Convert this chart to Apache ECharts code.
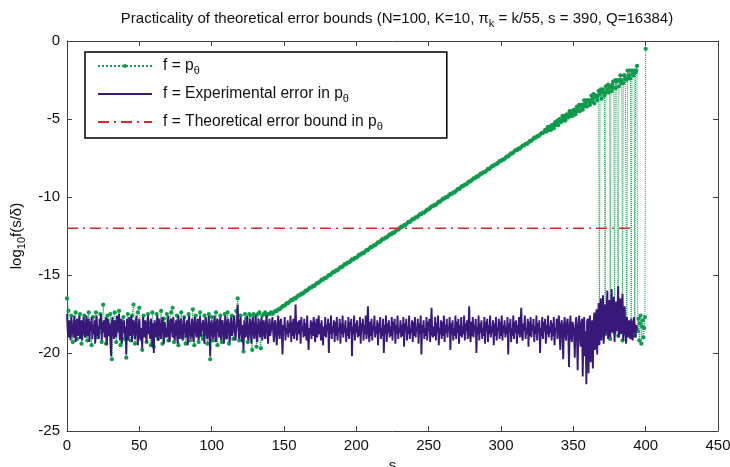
<!DOCTYPE html>
<html><head><meta charset="utf-8">
<script src="https://cdn.jsdelivr.net/npm/echarts@6/dist/echarts.min.js"></script>
<style>html,body{margin:0;padding:0;background:#fff}#c{width:730px;height:467px}</style>
</head><body><div id="c"></div>
<script>
// f = p_theta (log10), s = 0..330 step 1
const pThetaHead = [
-16.5,-17.3,-18.9,-17.6,-19.3,-18.0,-17.4,-19.1,-18.6,-17.5,
-19.4,-18.2,-17.6,-18.9,-19.2,-17.4,-18.5,-19.5,-17.7,-18.3,
-17.4,-19.0,-18.7,-17.5,-19.3,-16.9,-18.1,-19.4,-17.6,-18.8,
-17.5,-20.4,-18.2,-17.4,-19.3,-18.6,-17.3,-19.5,-18.0,-17.7,
-19.1,-20.3,-17.5,-18.4,-19.2,-17.6,-16.9,-19.4,-18.3,-17.4,
-17.1,-19.0,-19.8,-17.6,-18.7,-19.3,-17.5,-18.1,-19.5,-17.4,
-19.6,-18.2,-17.5,-19.1,-18.5,-17.3,-19.4,-17.8,-18.9,-17.5,
-19.2,-18.0,-17.4,-17.1,-19.3,-18.6,-17.6,-19.5,-18.2,-17.4,
-19.0,-17.7,-19.4,-18.3,-17.5,-19.2,-18.8,-17.2,-19.5,-17.6,
-18.4,-19.3,-17.4,-18.9,-19.1,-17.6,-18.2,-19.4,-17.5,-20.4,
-17.7,-19.2,-18.5,-17.4,-19.5,-18.0,-17.6,-19.3,-18.7,-17.5,
-19.0,-17.4,-19.4,-18.2,-17.6,-19.1,-18.6,-17.3,-16.5,-19.2,
-17.6,-18.4,-19.9,-17.5,-17.8,-19.3,-17.5,-17.6,-19.8,-17.5,
-17.6,-19.6,-17.5,-17.4,-19.7,-17.6,-17.5,-17.4,-17.6,-17.5,
-17.5,-17.4,-17.5,-17.4,-17.3,-17.3,-17.2,-17.2,-17.1,-17.0,
-17.0,-16.9,-16.8,-16.8,-16.7,-16.6,-16.6,-16.5,-16.5,-16.4,
-16.3,-16.3,-16.2,-16.2,-16.1,-16.0,-16.0,-15.9,-15.8,-15.8,
-15.7,-15.7,-15.6,-15.5,-15.5,-15.4,-15.3,-15.3,-15.2,-15.2,
-15.1,-15.0,-15.0,-14.9,-14.8,-14.8,-14.7,-14.7,-14.6,-14.5,
-14.5,-14.4,-14.3,-14.3,-14.2,-14.2,-14.1,-14.0,-14.0,-13.9,
-13.9,-13.8,-13.7,-13.7,-13.6,-13.6,-13.5,-13.4,-13.4,-13.3,
-13.2,-13.2,-13.1,-13.1,-13.0,-12.9,-12.9,-12.8,-12.7,-12.7,
-12.6,-12.6,-12.5,-12.4,-12.4,-12.3,-12.3,-12.2,-12.1,-12.1,
-12.0,-11.9,-11.9,-11.8,-11.8,-11.7,-11.6,-11.6,-11.5,-11.4,
-11.4,-11.3,-11.3,-11.2,-11.1,-11.1,-11.0,-11.0,-10.9,-10.8,
-10.8,-10.7,-10.6,-10.6,-10.5,-10.5,-10.4,-10.3,-10.3,-10.2,
-10.1,-10.1,-10.0,-10.0,-9.9,-9.8,-9.8,-9.7,-9.7,-9.6,
-9.5,-9.5,-9.4,-9.3,-9.3,-9.2,-9.2,-9.1,-9.0,-9.0,
-8.9,-8.8,-8.8,-8.7,-8.7,-8.6,-8.5,-8.5,-8.4,-8.4,
-8.3,-8.2,-8.2,-8.1,-8.0,-8.0,-7.9,-7.9,-7.8,-7.7,
-7.7,-7.6,-7.6,-7.5,-7.4,-7.4,-7.3,-7.2,-7.2,-7.1,
-7.0,-7.0,-6.9,-6.9,-6.8,-6.7,-6.7,-6.6,-6.6,-6.5,
-6.4,-6.4,-6.3,-6.2,-6.2,-6.1,-6.1,-6.0,-5.9,-5.9,
-5.8
];
// f = p_theta (log10), s = 330.5..400 step 0.5
const pThetaTail = [
-5.7,-5.8,-5.8,-5.6,-5.5,-5.7,-5.6,-5.5,-5.7,-5.4,
-5.4,-5.5,-5.6,-5.3,-5.2,-5.4,-5.3,-5.1,-5.4,-5.1,
-5.0,-5.2,-5.2,-5.0,-4.8,-5.1,-5.0,-4.8,-5.1,-4.8,
-4.7,-4.9,-4.9,-4.7,-4.5,-4.8,-4.7,-4.5,-4.8,-4.5,
-4.4,-4.6,-4.7,-4.4,-4.2,-4.5,-4.3,-4.1,-4.5,-4.2,
-4.1,-4.2,-4.4,-4.1,-3.8,-4.2,-4.0,-3.8,-4.2,-3.8,
-3.8,-3.9,-4.1,-3.8,-3.5,-3.9,-3.7,-3.4,-4.0,-3.5,
-3.5,-3.6,-3.8,-3.5,-3.2,-19.0,-3.4,-3.1,-3.7,-3.2,
-3.1,-3.3,-3.5,-18.8,-2.9,-3.3,-3.1,-2.8,-3.3,-2.9,
-19.1,-3.0,-3.2,-2.8,-2.6,-3.0,-18.7,-2.5,-3.0,-2.6,
-2.5,-18.9,-2.9,-2.5,-2.2,-2.7,-2.5,-19.2,-2.7,-2.2,
-2.2,-2.4,-2.5,-18.8,-1.9,-2.4,-2.2,-1.9,-2.4,-19.0,
-1.9,-2.1,-2.2,-1.9,-18.9,-2.0,-1.9,-1.6,-18.6,-17.8,
-19.2,-18.1,-17.6,-19.4,-18.3,-17.9,-19.0,-18.4,-17.7,-0.5
];

// f = experimental error in p_theta (log10), s = 0..394 step 0.5
const expErr = [
-17.5,-18.6,-19.0,-17.9,-18.3,-19.2,-17.7,-18.8,-18.1,-19.0,-17.6,-18.4,-19.3,-18.0,-17.8,-18.9,-18.2,-17.6,-19.1,-18.5,
-17.9,-19.2,-18.3,-17.7,-18.7,-19.0,-18.1,-17.6,-18.9,-18.4,-17.8,-19.3,-18.0,-18.6,-17.7,-19.1,-18.2,-18.8,-17.9,-19.4,
-18.1,-17.6,-18.9,-18.3,-19.1,-17.8,-18.5,-17.5,-19.2,-18.0,-18.7,-17.9,-19.0,-18.2,-17.7,-19.5,-18.4,-17.8,-18.9,-18.1,
-19.3,-20.2,-18.0,-17.7,-18.8,-19.1,-17.9,-18.4,-19.0,-17.6,-18.6,-18.2,-17.5,-19.2,-18.3,-17.8,-19.4,-18.0,-18.7,-17.9,
-19.0,-18.3,-20.1,-17.8,-18.6,-19.2,-17.7,-18.4,-18.9,-17.6,-19.3,-18.1,-17.9,-18.7,-19.1,-18.0,-17.6,-18.8,-19.5,-18.2,
-17.8,-18.9,-19.2,-18.4,-19.7,-17.7,-18.2,-19.0,-17.9,-18.6,-19.3,-18.0,-17.6,-18.8,-18.3,-19.1,-17.8,-18.5,-19.6,-18.1,
-20.0,-17.9,-18.7,-19.0,-18.2,-17.6,-19.2,-18.4,-17.8,-18.9,-19.1,-18.1,-17.7,-18.6,-19.4,-18.0,-17.9,-18.8,-19.0,-18.3,
-17.6,-18.9,-19.3,-18.1,-17.8,-18.5,-19.0,-17.7,-18.7,-19.2,-18.2,-17.9,-18.8,-19.4,-17.6,-18.3,-19.1,-18.0,-17.8,-18.9,
-19.2,-18.2,-17.7,-18.6,-19.0,-18.3,-17.9,-19.5,-18.1,-17.6,-18.8,-19.1,-18.4,-17.8,-18.9,-19.3,-18.0,-17.7,-18.6,-19.0,
-18.1,-17.8,-19.2,-18.5,-17.6,-18.9,-19.0,-18.2,-17.9,-18.7,-19.4,-18.0,-17.7,-18.8,-19.1,-18.3,-17.6,-19.0,-20.2,-18.1,
-17.9,-18.7,-19.1,-18.2,-17.6,-18.9,-19.3,-18.0,-17.8,-18.5,-19.0,-18.4,-17.7,-19.2,-18.1,-17.9,-18.8,-19.4,-18.2,-17.6,
-18.9,-19.1,-18.0,-17.8,-18.6,-19.3,-18.3,-17.7,-18.9,-19.0,-18.1,-17.6,-18.7,-19.2,-18.4,-17.9,-16.9,-18.5,-19.1,-18.0,
-17.7,-18.8,-19.3,-18.2,-19.8,-17.9,-18.6,-19.0,-18.1,-17.6,-18.9,-19.2,-18.3,-17.8,-18.7,-19.4,-18.0,-17.7,-18.8,-19.1,
-18.2,-17.6,-18.9,-19.3,-18.4,-17.8,-18.6,-19.0,-18.1,-17.7,-19.2,-18.5,-17.9,-18.8,-19.1,-18.0,-17.6,-18.7,-19.4,-18.3,
-17.8,-18.9,-19.0,-18.2,-17.7,-18.6,-19.3,-18.1,-17.9,-18.8,-19.5,-18.3,-17.6,-18.7,-19.1,-18.0,-17.8,-18.9,-20.1,-18.2,
-18.6,-17.7,-19.2,-18.4,-18.8,-17.9,-19.0,-18.1,-18.7,-17.6,-19.3,-18.0,-18.9,-17.8,-19.1,-18.3,-16.9,-18.5,-19.2,-18.0,
-18.8,-17.9,-18.2,-19.4,-17.7,-18.6,-18.3,-19.0,-17.8,-18.9,-18.1,-19.2,-17.6,-18.7,-19.8,-18.4,-18.8,-17.9,-19.1,-18.0,
-18.9,-17.7,-18.2,-19.3,-18.6,-17.8,-19.0,-18.4,-17.6,-18.8,-18.1,-19.2,-17.9,-18.7,-19.5,-18.3,-18.9,-17.7,-19.0,-18.2,
-18.6,-17.8,-20.0,-18.1,-18.8,-17.6,-19.1,-18.3,-18.7,-17.9,-19.3,-18.0,-18.9,-17.7,-19.2,-18.4,-18.6,-17.8,-19.4,-18.1,
-18.8,-17.6,-19.0,-18.2,-18.7,-17.9,-19.3,-18.4,-18.9,-17.7,-19.1,-18.0,-18.6,-17.8,-20.2,-18.3,-18.8,-17.6,-19.2,-18.1,
-18.7,-17.9,-19.0,-18.3,-18.9,-17.7,-19.4,-18.1,-18.6,-17.8,-19.2,-18.2,-18.8,-17.6,-19.1,-18.4,-17.0,-18.7,-19.3,-18.0,
-18.9,-17.8,-19.2,-18.2,-18.6,-17.6,-19.0,-18.3,-18.8,-17.9,-19.5,-18.1,-18.7,-17.7,-19.1,-18.4,-18.9,-17.8,-20.0,-18.2,
-18.8,-17.6,-19.3,-18.1,-18.7,-17.9,-19.0,-18.3,-18.9,-17.7,-19.2,-18.0,-18.6,-17.8,-19.4,-18.2,-18.8,-17.6,-19.1,-18.4,
-18.7,-17.9,-19.0,-18.2,-18.9,-17.7,-19.6,-18.1,-18.6,-17.8,-19.2,-18.3,-18.8,-17.6,-19.1,-18.4,-18.7,-17.9,-19.3,-18.0,
-18.9,-17.7,-19.0,-18.3,-18.6,-17.8,-19.4,-18.1,-18.8,-17.6,-20.1,-18.2,-18.7,-17.9,-19.1,-18.4,-18.9,-17.7,-19.2,-18.0,
-18.6,-17.8,-19.3,-18.2,-17.1,-18.8,-19.0,-18.3,-18.9,-17.7,-19.2,-18.1,-18.7,-17.6,-19.5,-18.4,-18.8,-17.9,-19.1,-18.0,
-18.9,-17.6,-19.3,-18.2,-18.7,-17.8,-19.0,-18.3,-18.6,-17.7,-19.8,-18.1,-18.8,-17.9,-19.2,-18.4,-18.9,-17.6,-19.1,-18.0,
-18.7,-17.8,-19.4,-18.2,-18.9,-17.7,-19.0,-18.3,-18.8,-17.6,-19.2,-18.1,-18.6,-17.9,-19.1,-18.4,-17.0,-18.8,-19.3,-18.0,
-18.9,-17.7,-19.0,-18.2,-18.6,-17.8,-20.0,-18.3,-18.8,-17.6,-19.2,-18.1,-18.7,-17.9,-19.1,-18.4,-18.9,-17.7,-19.4,-18.0,
-18.6,-17.8,-19.3,-18.2,-18.8,-17.6,-19.0,-18.3,-18.7,-17.9,-19.5,-18.1,-18.9,-17.7,-19.2,-18.4,-18.6,-17.8,-19.1,-18.0,
-18.9,-17.6,-19.2,-18.2,-18.7,-17.9,-19.0,-18.3,-18.8,-17.7,-20.1,-18.1,-18.6,-17.8,-19.3,-18.4,-18.9,-17.6,-19.1,-18.0,
-18.7,-17.9,-19.4,-18.2,-18.8,-17.7,-19.0,-18.3,-17.1,-18.9,-19.2,-18.1,-18.6,-17.6,-19.1,-18.4,-18.8,-17.8,-19.6,-18.0,
-18.9,-17.7,-19.0,-18.2,-18.6,-17.8,-19.3,-18.3,-18.8,-17.6,-19.2,-18.1,-18.7,-17.9,-20.0,-18.4,-18.9,-17.7,-19.1,-18.0,
-18.6,-17.8,-19.4,-18.2,-18.8,-17.6,-19.0,-18.3,-18.7,-17.9,-19.2,-18.1,-18.9,-17.7,-19.5,-18.4,-18.6,-17.8,-19.1,-18.0,
-17.6,-18.9,-19.8,-18.2,-17.9,-18.7,-20.4,-18.3,-17.7,-18.8,-19.2,-18.1,-17.8,-18.6,-20.9,-18.4,-17.6,-18.9,-19.3,-18.0,
-17.9,-18.7,-20.3,-18.2,-17.7,-18.8,-21.1,-18.3,-17.6,-18.9,-19.6,-18.1,-17.8,-21.5,-18.4,-17.7,-20.2,-18.6,-22.0,-18.0,
-17.8,-21.3,-18.2,-17.6,-20.6,-18.4,-17.9,-21.0,-18.1,-17.4,-19.8,-18.3,-17.2,-20.1,-18.0,-16.8,-19.5,-18.2,-16.5,-19.2,
-17.6,-16.3,-19.4,-18.1,-16.9,-18.8,-17.4,-16.0,-19.1,-18.3,-16.6,-19.0,-17.5,-15.9,-18.7,-17.8,-16.4,-19.3,-18.0,-16.7,
-18.6,-17.3,-15.7,-19.0,-17.9,-16.5,-18.8,-17.6,-16.2,-19.2,-18.1,-17.0,-18.7,-19.4,-17.7,-18.3,-19.0,-17.9,-18.5,-19.1,
-17.8,-18.4,-19.2,-18.0,-17.7,-18.6,-19.0,-18.2,-18.5
];

// theoretical error bound (log10)
const boundS = [0, 392];
const boundV = [-12, -12];

const names = ['f = p_θ', 'f = Experimental error in p_θ', 'f = Theoretical error bound in p_θ'];
const richNames = {
  'f = p_θ': '{t|f = p}{s|θ}',
  'f = Experimental error in p_θ': '{t|f = Experimental error in p}{s|θ}',
  'f = Theoretical error bound in p_θ': '{t|f = Theoretical error bound in p}{s|θ}'
};

const GREEN = '#0e9c4c', PURPLE = '#381878', RED = '#d8262a';
const FONT = 'Liberation Sans, Arial, sans-serif';
const axisCol = '#404040';

const greenData = pThetaHead.map((v, i) => [i, v])
  .concat(pThetaTail.map((v, i) => [330.5 + i * 0.5, v]));
const purpleData = expErr.map((v, i) => [i * 0.5, v]);
const redData = boundS.map((s, i) => [s, boundV[i]]);

const chart = echarts.init(document.getElementById('c'), null, {renderer: 'canvas'});
const baseX = {type: 'value', min: 0, max: 450, interval: 50, splitLine: {show: false},
  axisLine: {show: true, onZero: false, lineStyle: {color: axisCol, width: 1}},
  axisTick: {show: true, inside: true, length: 5, lineStyle: {color: axisCol}}};
const baseY = {type: 'value', min: -25, max: 0, interval: 5, splitLine: {show: false},
  axisLine: {show: true, onZero: false, lineStyle: {color: axisCol, width: 1}},
  axisTick: {show: true, inside: true, length: 5, lineStyle: {color: axisCol}}};

chart.setOption({
  animation: false,
  backgroundColor: '#fff',
  title: {
    text: 'Practicality of theoretical error bounds (N=100, K=10, π{s|k} = k/55, s = 390, Q=16384)',
    left: 392, textAlign: 'center', top: 4,
    textStyle: {fontFamily: FONT, fontSize: 15, fontWeight: 'normal', color: '#111',
      rich: {s: {fontFamily: FONT, fontSize: 11, padding: [9, 0, 0, 0], color: '#111'}}}
  },
  grid: {left: 67, right: 12, top: 41, bottom: 36, containLabel: false, outerBoundsMode: 'none'},
  legend: {
    orient: 'vertical', left: 85, top: 52,
    data: [
      {name: names[0]},
      {name: names[1], itemStyle: {opacity: 0}},
      {name: names[2], itemStyle: {opacity: 0}}
    ],
    itemWidth: 54, itemHeight: 5, itemGap: 10,
    padding: [6, 64, 6, 12],
    borderColor: '#000', borderWidth: 1.5, backgroundColor: '#fff',
    formatter: n => richNames[n],
    textStyle: {fontFamily: FONT, fontSize: 15.6, color: '#111', padding: [0, 0, 0, 6],
      rich: {t: {fontFamily: FONT, fontSize: 15.6, color: '#111'},
             s: {fontFamily: FONT, fontSize: 11, padding: [9, 0, 0, 0], color: '#111'}}}
  },
  xAxis: [
    Object.assign({}, baseX, {position: 'bottom',
      name: 's', nameLocation: 'middle', nameGap: 25,
      nameTextStyle: {fontFamily: FONT, fontSize: 15, color: '#111'},
      axisLabel: {fontFamily: FONT, fontSize: 15, color: '#111', margin: 7}}),
    Object.assign({}, baseX, {position: 'top', axisLabel: {show: false}})
  ],
  yAxis: [
    Object.assign({}, baseY, {position: 'left',
      name: 'log{s|10}f(s/δ)', nameLocation: 'middle', nameGap: 40,
      nameTextStyle: {fontFamily: FONT, fontSize: 15, color: '#111',
        rich: {s: {fontFamily: FONT, fontSize: 11, padding: [9, 0, 0, 0], color: '#111'}}},
      axisLabel: {fontFamily: FONT, fontSize: 15, color: '#111', margin: 7}}),
    Object.assign({}, baseY, {position: 'right', axisLabel: {show: false}})
  ],
  series: [
    {
      name: names[0], type: 'line', xAxisIndex: 0, yAxisIndex: 0,
      data: greenData,
      symbol: 'circle', symbolSize: 4.2, showSymbol: true, showAllSymbol: true,
      itemStyle: {color: GREEN},
      lineStyle: {color: GREEN, width: 1, type: 'dotted'},
      z: 2
    },
    {
      name: names[1], type: 'line', xAxisIndex: 0, yAxisIndex: 0,
      data: purpleData,
      symbol: 'none',
      itemStyle: {color: PURPLE},
      lineStyle: {color: PURPLE, width: 1.9},
      z: 3
    },
    {
      name: names[2], type: 'line', xAxisIndex: 0, yAxisIndex: 0,
      data: redData,
      symbol: 'none',
      itemStyle: {color: RED},
      lineStyle: {color: RED, width: 1.5, type: [11, 5, 2, 5]},
      z: 4
    }
  ]
});
</script>
</body></html>
